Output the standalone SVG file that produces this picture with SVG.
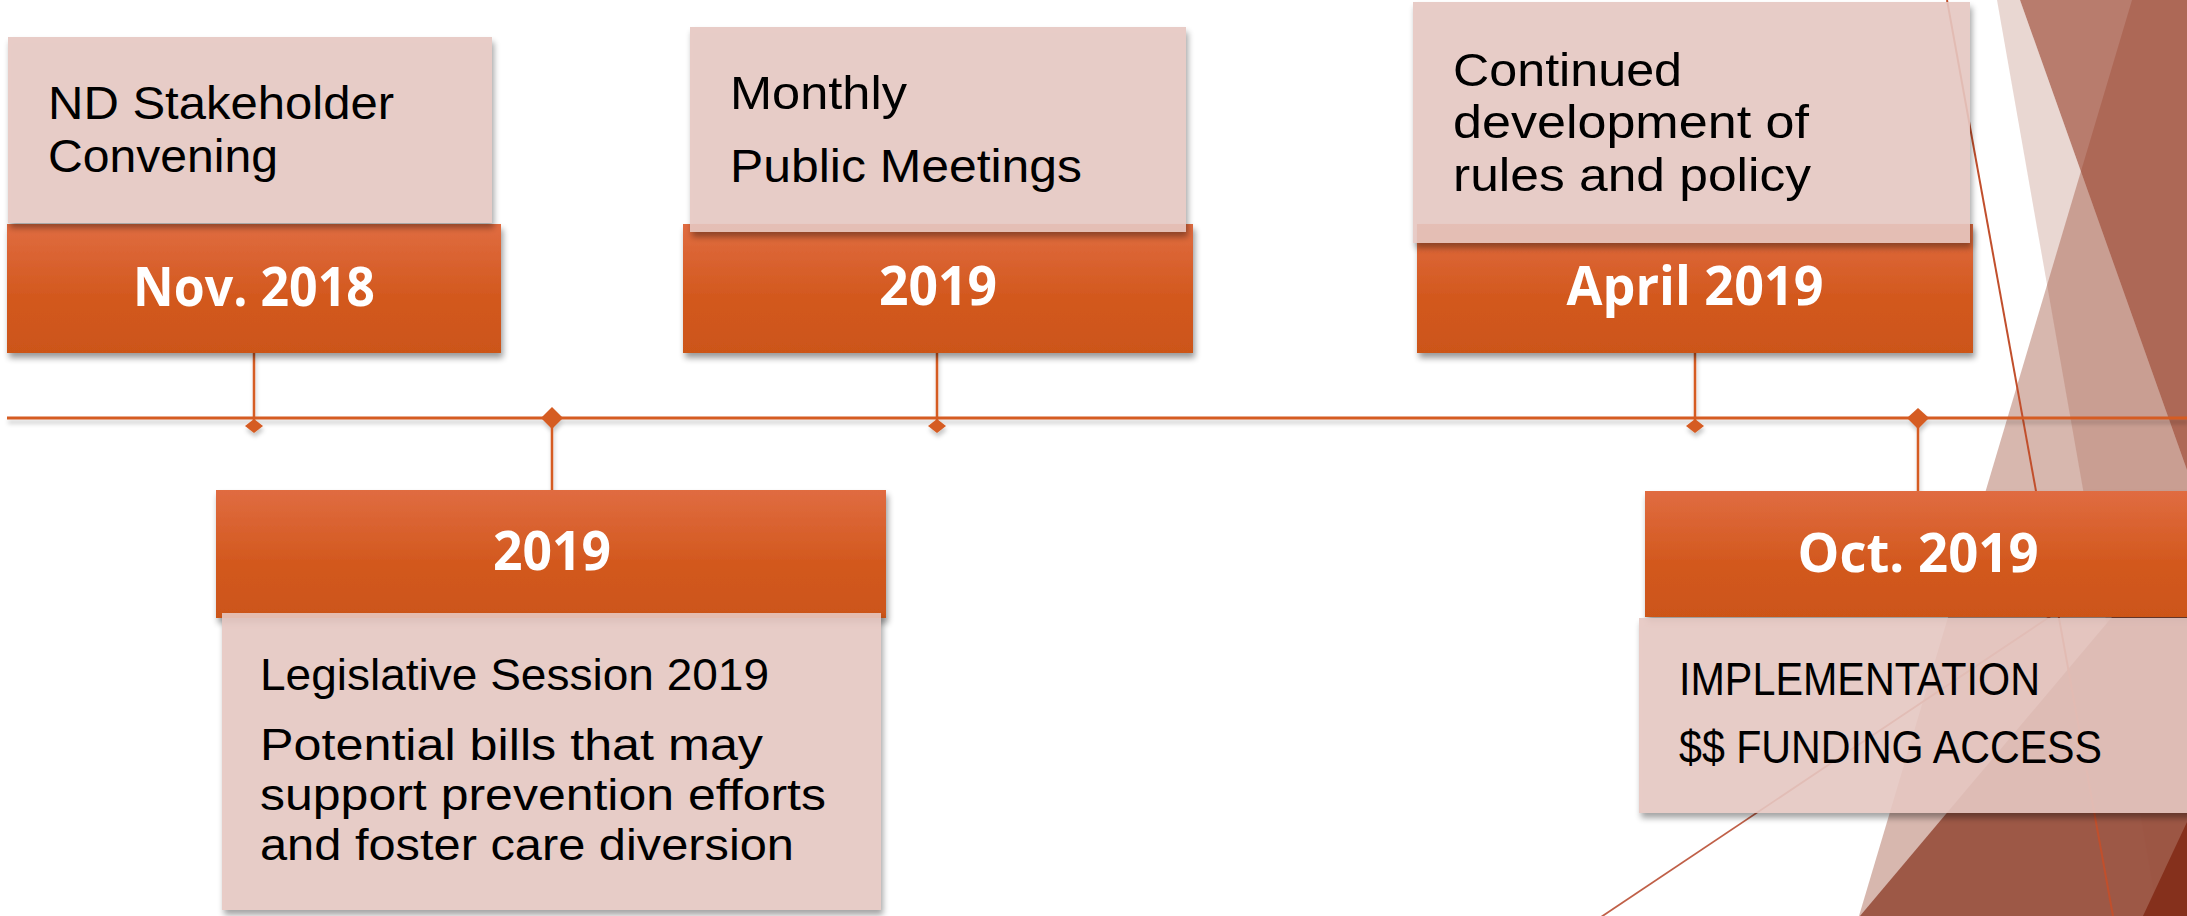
<svg xmlns="http://www.w3.org/2000/svg" width="2187" height="916" viewBox="0 0 2187 916">
<style>
.t{font-family:"Liberation Sans","Open Sans",sans-serif;fill:#000;}
.tu{font-size:46px;}
.tl{font-size:44px;}
.h{font-family:"Open Sans","Liberation Sans",sans-serif;font-weight:bold;font-size:53px;fill:#fff;text-anchor:middle;}
.ob{fill:url(#og);filter:url(#sh);}
.lb{fill:#E5C6C1;fill-opacity:0.9;filter:url(#sh);}
.stem{stroke:#D55B22;stroke-width:2.5;fill:none;}
.dia{fill:#D55B22;}
.tri{fill:#9C4A34;}
</style>
<defs>
<linearGradient id="og" x1="0" y1="0" x2="0" y2="1">
<stop offset="0" stop-color="#E06C41"/>
<stop offset="0.55" stop-color="#D3591F"/>
<stop offset="1" stop-color="#CC5519"/>
</linearGradient>
<filter id="sh" x="-5%" y="-10%" width="115%" height="135%">
<feGaussianBlur in="SourceAlpha" stdDeviation="3"/>
<feOffset dx="2" dy="5"/>
<feComponentTransfer><feFuncA type="linear" slope="0.4"/></feComponentTransfer>
<feComposite in2="SourceAlpha" operator="out" result="s"/>
<feMerge><feMergeNode in="s"/><feMergeNode in="SourceGraphic"/></feMerge>
</filter>
<filter id="lsh" x="-2%" y="-50%" width="104%" height="300%">
<feDropShadow dx="1" dy="4" stdDeviation="2" flood-color="#000" flood-opacity="0.22"/>
</filter>
</defs>
<rect width="2187" height="916" fill="#fff"/>
<g id="background">
<polygon class="tri" fill-opacity="0.4" points="2132,0 2187,0 2187,916 1859,916"/>
<polygon class="tri" fill-opacity="0.22" points="1997,0 2020,0 2187,470 2187,916 2158,916"/>
<polygon class="tri" fill-opacity="0.72" points="2020,0 2187,0 2187,470"/>
<polygon fill="#9A5240" fill-opacity="0.95" points="1860,916 2187,528 2187,916"/>
<polygon fill="#85301C" points="2143,916 2187,822 2187,916"/>
<line x1="1947" y1="0" x2="2113" y2="916" stroke="#C14F2C" stroke-width="2"/>
<line x1="1601" y1="917" x2="2187" y2="525" stroke="#C06048" stroke-width="1.8"/>
</g>
<g id="connectors" filter="url(#lsh)">
<line x1="7" y1="418" x2="2187" y2="418" stroke="#D55B22" stroke-width="3"/>
<line class="stem" x1="254" y1="353" x2="254" y2="420"/>
<line class="stem" x1="937" y1="353" x2="937" y2="420"/>
<line class="stem" x1="1695" y1="353" x2="1695" y2="420"/>
<line class="stem" x1="552" y1="418" x2="552" y2="491"/>
<line class="stem" x1="1918" y1="418" x2="1918" y2="492"/>
<polygon class="dia" points="254,419 263,426 254,433 245,426"/>
<polygon class="dia" points="937,419 946,426 937,433 928,426"/>
<polygon class="dia" points="1695,419 1704,426 1695,433 1686,426"/>
<polygon class="dia" points="552,407 563,418 552,429 541,418"/>
<polygon class="dia" points="1918,408 1929,418 1918,429 1907,418"/>
</g>
<g id="node-nov-2018">
<rect class="ob" x="7" y="224" width="494" height="129"/>
<rect class="lb" x="8" y="37" width="484" height="186"/>
<text class="t tu" x="48" y="119" textLength="346" lengthAdjust="spacingAndGlyphs">ND Stakeholder</text>
<text class="t tu" x="48" y="172" textLength="230" lengthAdjust="spacingAndGlyphs">Convening</text>
<text class="h" x="254" y="306" textLength="242" lengthAdjust="spacingAndGlyphs">Nov. 2018</text>
</g>
<g id="node-2019-meetings">
<rect class="ob" x="683" y="224" width="510" height="129"/>
<rect class="lb" x="690" y="27" width="496" height="205"/>
<text class="t tu" x="730" y="109" textLength="177" lengthAdjust="spacingAndGlyphs">Monthly</text>
<text class="t tu" x="730" y="182" textLength="352" lengthAdjust="spacingAndGlyphs">Public Meetings</text>
<text class="h" x="938" y="305" textLength="118" lengthAdjust="spacingAndGlyphs">2019</text>
</g>
<g id="node-april-2019">
<rect class="ob" x="1417" y="224" width="556" height="129"/>
<rect class="lb" x="1413" y="2" width="557" height="241"/>
<text class="t tu" x="1453" y="86" textLength="229" lengthAdjust="spacingAndGlyphs">Continued</text>
<text class="t tu" x="1453" y="138" textLength="356" lengthAdjust="spacingAndGlyphs">development of</text>
<text class="t tu" x="1453" y="191" textLength="358" lengthAdjust="spacingAndGlyphs">rules and policy</text>
<text class="h" x="1695" y="305" textLength="257" lengthAdjust="spacingAndGlyphs">April 2019</text>
</g>
<g id="node-2019-legislative">
<rect class="ob" x="216" y="490" width="670" height="128"/>
<rect class="lb" x="222" y="613" width="659" height="297"/>
<text class="h" x="552" y="570" textLength="118" lengthAdjust="spacingAndGlyphs">2019</text>
<text class="t tl" x="260" y="690" textLength="509" lengthAdjust="spacingAndGlyphs">Legislative Session 2019</text>
<text class="t tl" x="260" y="760" textLength="503" lengthAdjust="spacingAndGlyphs">Potential bills that may</text>
<text class="t tl" x="260" y="810" textLength="566" lengthAdjust="spacingAndGlyphs">support prevention efforts</text>
<text class="t tl" x="260" y="860" textLength="534" lengthAdjust="spacingAndGlyphs">and foster care diversion</text>
</g>
<g id="node-oct-2019">
<rect class="ob" x="1645" y="491" width="560" height="126"/>
<rect class="lb" x="1639" y="618" width="566" height="195"/>
<text class="h" x="1918" y="572" textLength="241" lengthAdjust="spacingAndGlyphs">Oct. 2019</text>
<text class="t tu" x="1679" y="695" textLength="361" lengthAdjust="spacingAndGlyphs">IMPLEMENTATION</text>
<text class="t tu" x="1679" y="763" textLength="423" lengthAdjust="spacingAndGlyphs">$$ FUNDING ACCESS</text>
</g>
</svg>
